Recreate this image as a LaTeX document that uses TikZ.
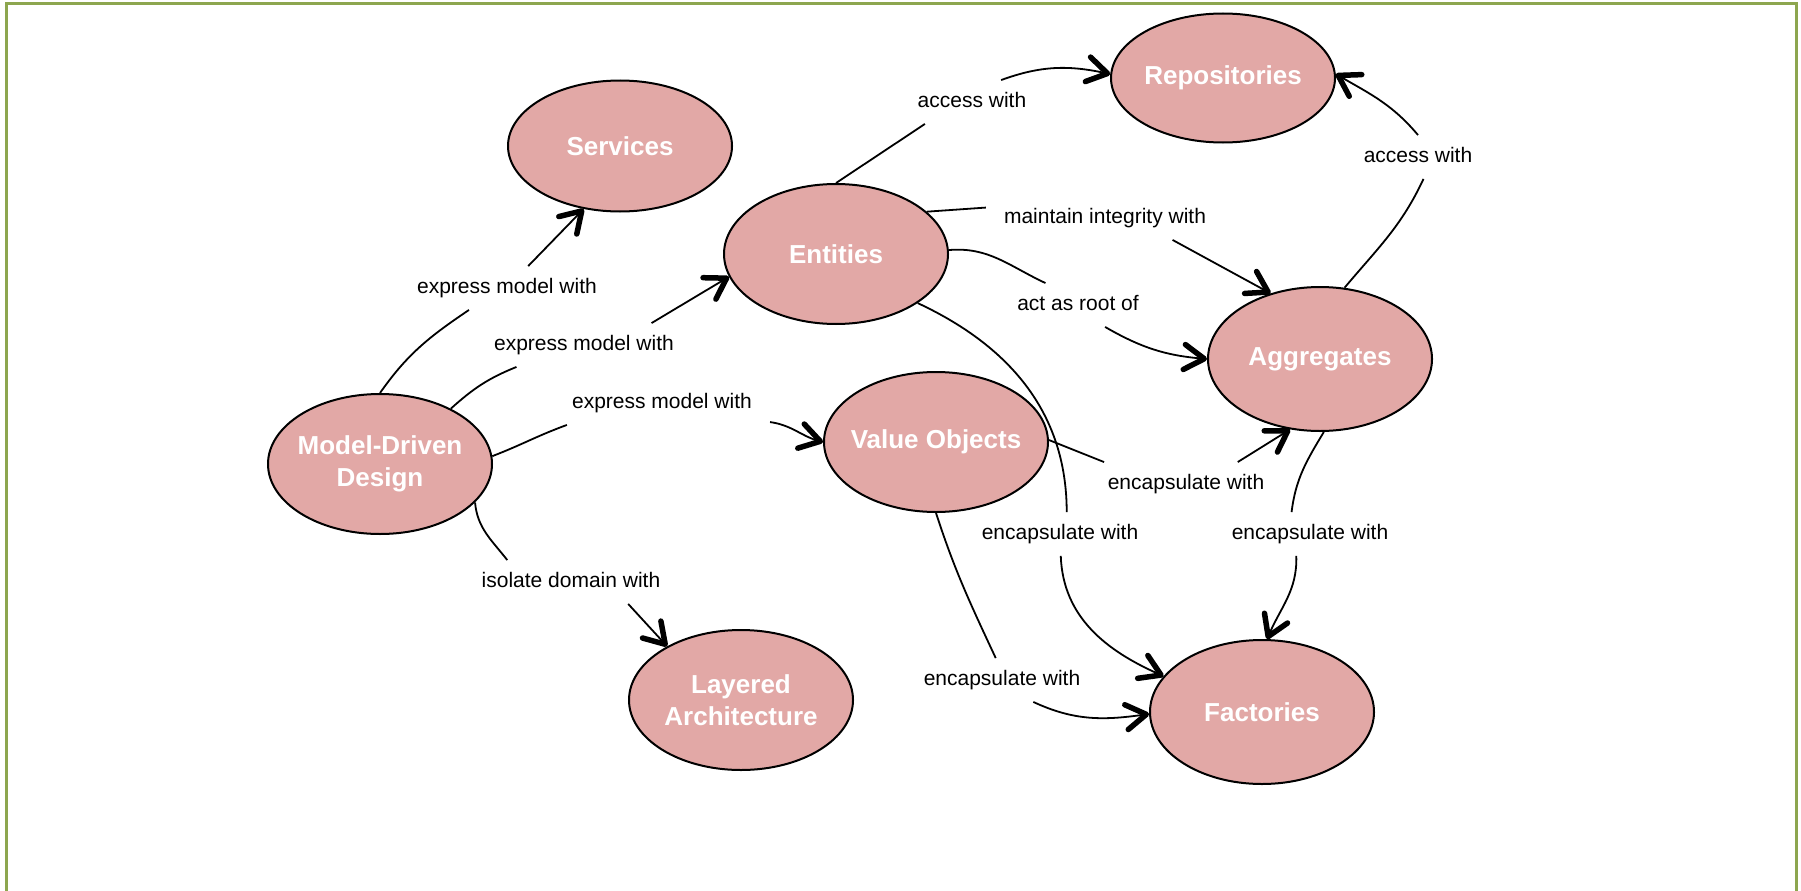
\documentclass[tikz,border=0pt]{standalone}
\usepackage{fontspec}
\setmainfont{Liberation Sans}
\usetikzlibrary{positioning}
\usetikzlibrary{shapes.geometric}
\usetikzlibrary{arrows.meta}
\usepackage{xcolor}
\definecolor{conceptfill}{HTML}{E2A8A6}
\definecolor{framegreen}{HTML}{8DA64F}

\begin{document}
\begin{tikzpicture}[
		% Style definitions - pixel grid, y grows downwards
		x=1pt, y=-1pt,
		concept/.style={draw, ellipse, line width=2pt, fill=conceptfill, minimum width=224pt, minimum height=140pt, inner xsep=-14pt, inner ysep=0pt, align=center, text=white, font=\fontsize{26}{32}\selectfont\bfseries},
		rel/.style={inner xsep=18pt, inner ysep=12pt, text height=15pt, text depth=4.5pt, font=\fontsize{21}{25}\selectfont},
		link/.style={line width=1.8pt},
		arrow/.style={link, -{Straight Barb[length=20pt, width=25pt, line width'=5.5pt, round]}},
		]
		\useasboundingbox (0,0) rectangle (1801,891);
		\fill[white] (0,0) rectangle (1801,891);
		\draw[framegreen, line width=3pt] (6,891) -- (6,4) -- (1796,4) -- (1796,891);

		% === Concepts ===
		\node[concept] (mdd) at (380,464) {Model-Driven\\Design};
		\node[concept, minimum height=131pt] (services) at (620,146) {Services};
		\node[concept] (entities) at (836,254) {Entities};
		\node[concept] (vo) at (936,442) {Value Objects};
		\node[concept] (layered) at (741,700) {Layered\\Architecture};
		\node[concept, minimum height=129pt] (repo) at (1223,78) {Repositories};
		\node[concept, minimum height=144pt] (agg) at (1320,359) {Aggregates};
		\node[concept, minimum height=144pt] (fact) at (1262,712) {Factories};

		% === Relation labels ===
		\node[rel] (l-svc) at (507,288) {express model with};
		\node[rel] (l-ent) at (584,345) {express model with};
		\node[rel] (l-vo) at (662,403) {express model with};
		\node[rel] (l-iso) at (571,582) {isolate domain with};
		\node[rel] (l-acc-top) at (972,102) {access with};
		\node[rel] (l-int) at (1105,218) {maintain integrity with};
		\node[rel] (l-root) at (1078,305) {act as root of};
		\node[rel] (l-acc-agg) at (1418,157) {access with};
		\node[rel] (l-enc-va) at (1186,484) {encapsulate with};
		\node[rel] (l-enc-ef) at (1060,534) {encapsulate with};
		\node[rel] (l-enc-af) at (1310,534) {encapsulate with};
		\node[rel] (l-enc-vf) at (1002,680) {encapsulate with};

		% === Model-Driven Design outgoing ===
		\draw[link] (mdd.90) to[out=55, in=214] (l-svc.210);
		\draw[arrow] (l-svc.46) -- (services.240);
		\draw[link] (mdd.38) to[out=42, in=202] (l-ent.198);
		\draw[arrow] (l-ent.18) -- (entities.192);
		\draw[link] (mdd.4) to[out=21, in=200] (l-vo.193);
		\draw[arrow] (l-vo.-10) to[out=-8, in=165] (vo.180);
		\draw[link] (mdd.-22) to[out=-85, in=128] (l-iso.161);
		\draw[arrow] (l-iso.-21) -- (layered.144);

		% === Entities outgoing ===
		\draw[link] (entities.90) -- (l-acc-top.205);
		\draw[arrow] (l-acc-top.37) to[out=20, in=168] (repo.178);
		\draw[link] (entities.25) -- (l-int.175);
		\draw[arrow] (l-int.-18) -- (agg.127);
		\draw[link] (entities.2) to[out=5, in=155] (l-root.146);
		\draw[arrow] (l-root.-39) to[out=-30, in=175] (agg.180);
		\draw[link] (entities.-31) to[out=-25, in=90] (l-enc-ef.73);
		\draw[arrow] (l-enc-ef.-88) to[out=-88, in=156] (fact.160);

		% === Value Objects outgoing ===
		\draw[link] (vo.1) -- (l-enc-va.165);
		\draw[arrow] (l-enc-va.23) -- (agg.247);
		\draw[link] (vo.-90) to[out=-72, in=115] (l-enc-vf.106);
		\draw[arrow] (l-enc-vf.-35) to[out=-25, in=188] (fact.181);

		% === Aggregates outgoing ===
		\draw[link] (agg.71) to[out=50, in=245] (l-acc-agg.-76);
		\draw[arrow] (l-acc-agg.90) to[out=130, in=-30] (repo.2);
		\draw[link] (agg.-87) to[out=-121, in=83] (l-enc-af.130);
		\draw[arrow] (l-enc-af.238) to[out=-88, in=67] (fact.86);

	\end{tikzpicture}
\end{document}
